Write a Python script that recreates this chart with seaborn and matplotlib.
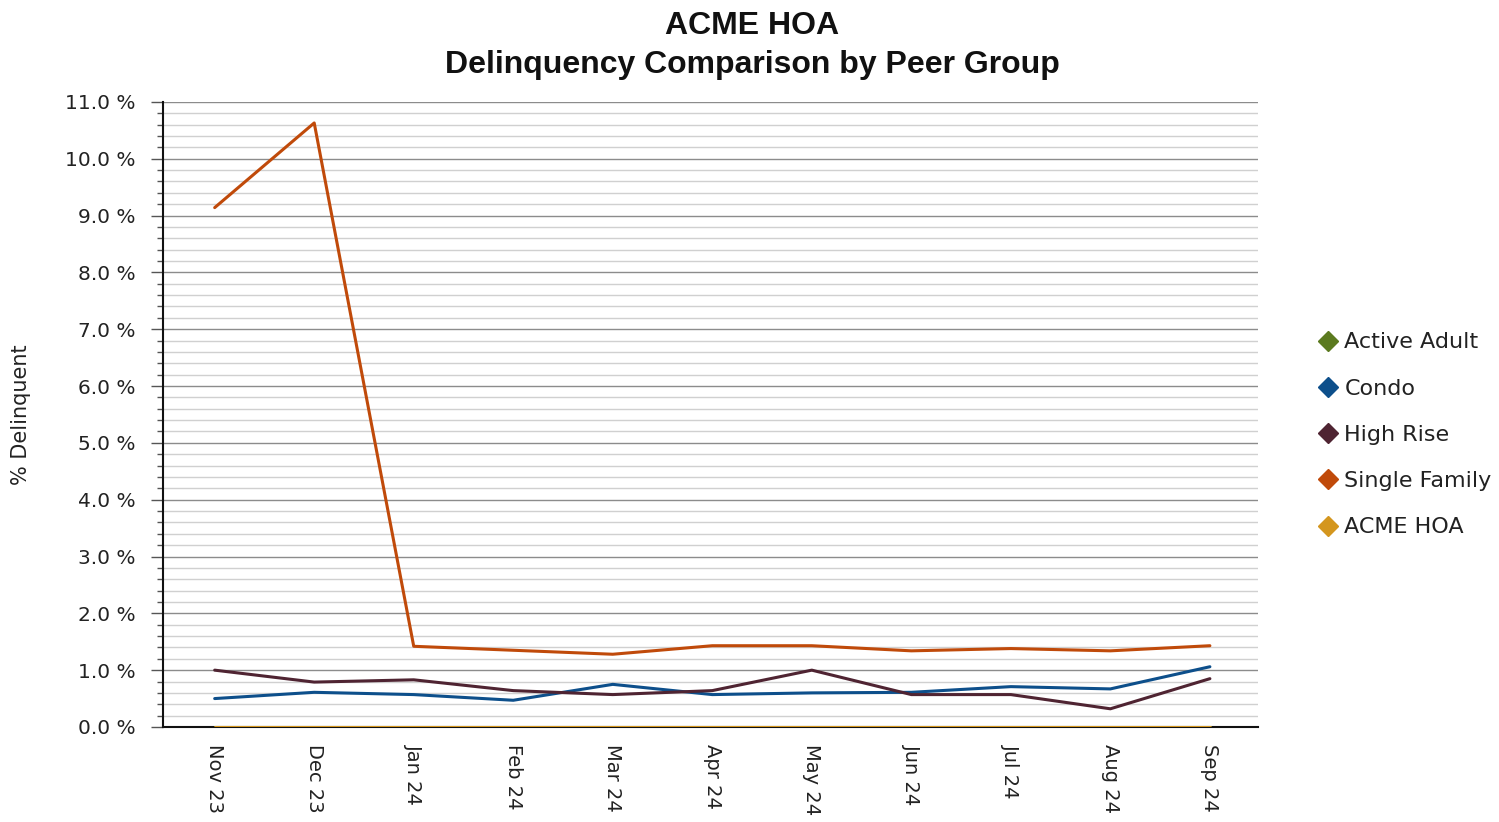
import matplotlib
matplotlib.use("Agg")
import matplotlib.pyplot as plt
from matplotlib.lines import Line2D
from matplotlib.ticker import MultipleLocator, FuncFormatter
import seaborn as sns
import pandas as pd

months = ["Nov 23", "Dec 23", "Jan 24", "Feb 24", "Mar 24", "Apr 24",
          "May 24", "Jun 24", "Jul 24", "Aug 24", "Sep 24"]
groups = ["Active Adult", "Condo", "High Rise", "Single Family", "ACME HOA"]
colors = ["#5b7a1f", "#0d4f8b", "#4f2432", "#c04a0a", "#d4961e"]

active_adult = [0, 0, 0, 0, 0, 0, 0, 0, 0, 0, 0]
condo = [0.50, 0.61, 0.57, 0.47, 0.75, 0.57, 0.60, 0.61, 0.71, 0.67, 1.06]
high_rise = [1.00, 0.79, 0.83, 0.64, 0.57, 0.64, 1.00, 0.57, 0.57, 0.32, 0.85]
single_family = [9.14, 10.63, 1.42, 1.35, 1.28, 1.43, 1.43, 1.34, 1.38, 1.34, 1.43]
acme_hoa = [0, 0, 0, 0, 0, 0, 0, 0, 0, 0, 0]

series = [active_adult, condo, high_rise, single_family, acme_hoa]
rows = []
for name, vals in zip(groups, series):
    for i, v in enumerate(vals):
        rows.append({"month": i, "group": name, "value": v})
df = pd.DataFrame(rows)

sns.set_theme(style="white")
plt.rcParams["font.family"] = ["DejaVu Sans"]

fig = plt.figure(figsize=(14.99, 8.22), dpi=100)
ax = fig.add_axes([0.1087, 0.1156, 0.7303, 0.7604])

sns.lineplot(data=df, x="month", y="value", hue="group", hue_order=groups,
             palette=dict(zip(groups, colors)), linewidth=2.2, legend=False, ax=ax)
for ln in ax.get_lines():
    ln.set_zorder(3)

ax.set_xlim(-0.52, 10.48)
ax.set_ylim(0, 11)
ax.yaxis.set_major_locator(MultipleLocator(1))
ax.yaxis.set_minor_locator(MultipleLocator(0.2))
ax.yaxis.set_major_formatter(FuncFormatter(lambda v, p: f"{v:.1f} %"))
ax.grid(which="major", axis="y", color="#8c8c8c", linewidth=1.0)
ax.grid(which="minor", axis="y", color="#d0d0d0", linewidth=1.0)
ax.set_axisbelow(True)

ax.set_xticks(range(len(months)))
ax.set_xticklabels(months, rotation=270, fontsize=14, color="#222222")
ax.tick_params(axis="x", length=0, pad=12)
ax.tick_params(axis="y", which="major", length=9, width=1, color="#555555",
               labelsize=14.5, labelcolor="#222222", left=True, pad=11)
ax.tick_params(axis="y", which="minor", length=4, width=1, color="#555555", left=True)

for s in ["top", "right"]:
    ax.spines[s].set_visible(False)
for s in ["left", "bottom"]:
    ax.spines[s].set_color("#111111")
    ax.spines[s].set_linewidth(1.5)
    ax.spines[s].set_zorder(2)

ax.set_xlabel("")
ax.set_ylabel("% Delinquent", fontsize=15, color="#222222", labelpad=24)

fig.suptitle("ACME HOA\nDelinquency Comparison by Peer Group", x=0.502, y=0.987,
             fontsize=23, fontweight="bold", color="#111111", linespacing=1.42,
             family=["Liberation Sans", "DejaVu Sans"])

handles = [Line2D([0], [0], marker="D", linestyle="none", markersize=10,
                  markerfacecolor=c, markeredgecolor=c) for c in colors]
fig.legend(handles, groups, loc="center left", bbox_to_anchor=(0.865, 0.471),
           frameon=False, fontsize=16, labelspacing=1.18, handletextpad=0.25,
           handlelength=1.0, labelcolor="#222222")

fig.savefig("out.png", dpi=100)
